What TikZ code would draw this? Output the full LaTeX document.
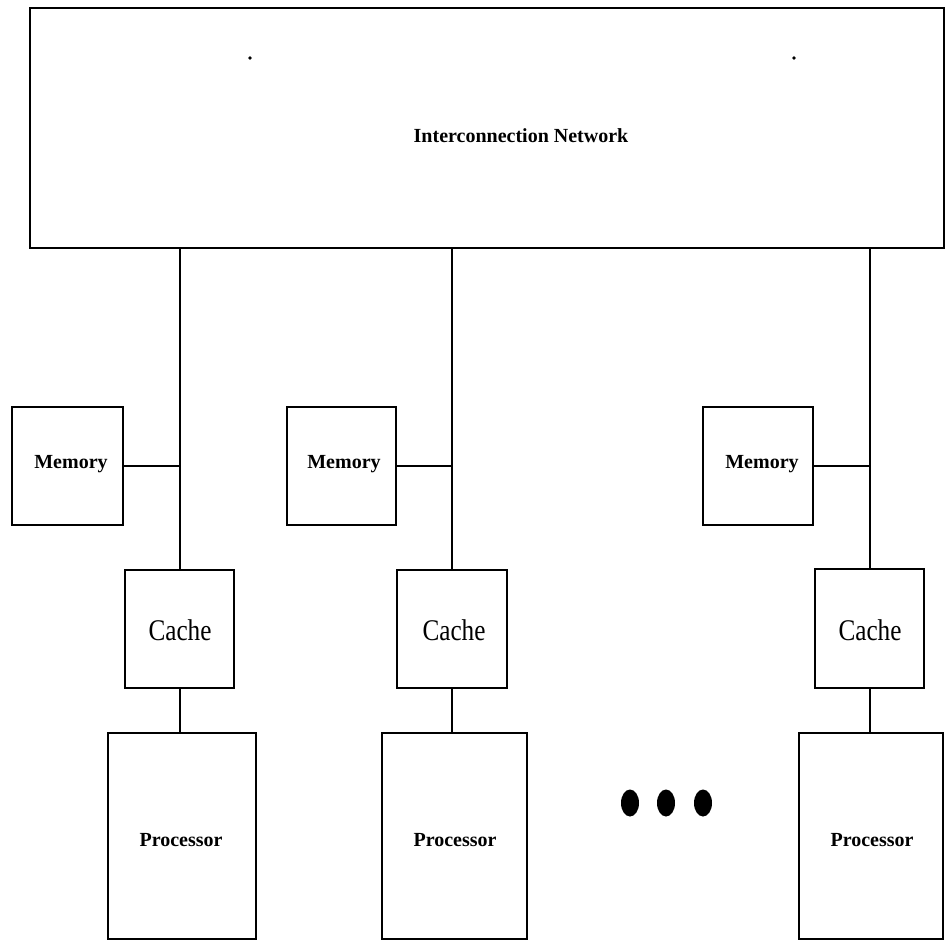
\documentclass[tikz,border=0pt]{standalone}
\usepackage{fontspec}
\setmainfont{Liberation Serif}
\usetikzlibrary{shapes.geometric}
\tikzset{
  box/.style={draw, line width=2.4pt, rectangle, inner sep=0pt},
  small/.style={font=\fontsize{20}{24}\selectfont\bfseries, inner sep=0pt, anchor=base},
  big/.style={font=\fontsize{30}{34}\selectfont, inner sep=0pt, anchor=base},
  link/.style={line width=2pt},
  bigdot/.style={fill=black, ellipse, inner sep=0pt, minimum width=18pt, minimum height=27pt},
  tinydot/.style={fill=black, circle, inner sep=0pt, minimum size=3.6pt}
}
\begin{document}
\begin{tikzpicture}[x=1pt,y=-1pt]
\useasboundingbox (0,0) rectangle (945,941);
% network
\node[box, minimum width=914pt, minimum height=240pt] (net) at (487,128) {};
\node[small] (nettxt) at (521,143) {Interconnection Network};
\node[tinydot] (nd1) at (250,58) {};
\node[tinydot] (nd2) at (794,58) {};
% memories
\node[box, minimum width=111pt, minimum height=118pt] (mem1) at (67.5,466) {};
\node[box, minimum width=109pt, minimum height=118pt] (mem2) at (341.5,466) {};
\node[box, minimum width=110pt, minimum height=118pt] (mem3) at (758,466) {};
\node[small] (memt1) at (71,468) {Memory};
\node[small] (memt2) at (344,468) {Memory};
\node[small] (memt3) at (762,468) {Memory};
% caches
\node[box, minimum width=109pt, minimum height=118pt] (cache1) at (179.5,629) {};
\node[box, minimum width=110pt, minimum height=118pt] (cache2) at (452,629) {};
\node[box, minimum width=109pt, minimum height=119pt] (cache3) at (869.5,628.5) {};
\node[big] (cat1) at (180,640) {\scalebox{0.84}[1]{Cache}};
\node[big] (cat2) at (454,640) {\scalebox{0.84}[1]{Cache}};
\node[big] (cat3) at (870,640) {\scalebox{0.84}[1]{Cache}};
% processors
\node[box, minimum width=148pt, minimum height=206pt] (proc1) at (182,836) {};
\node[box, minimum width=145pt, minimum height=206pt] (proc2) at (454.5,836) {};
\node[box, minimum width=144pt, minimum height=206pt] (proc3) at (871,836) {};
\node[small] (prt1) at (181,846) {Processor};
\node[small] (prt2) at (455,846) {Processor};
\node[small] (prt3) at (872,846) {Processor};
% ellipsis dots
\node[bigdot] (d1) at (630,803) {};
\node[bigdot] (d2) at (666,803) {};
\node[bigdot] (d3) at (703,803) {};
% connectors
\foreach \i in {1,2,3}{
  \draw[link] (cache\i.north) -- (cache\i.north |- net.south);
  \draw[link] (mem\i.east) -- (cache\i.north |- mem\i.east);
  \draw[link] (cache\i.south) -- (cache\i.south |- proc\i.north);
}
\end{tikzpicture}
\end{document}
